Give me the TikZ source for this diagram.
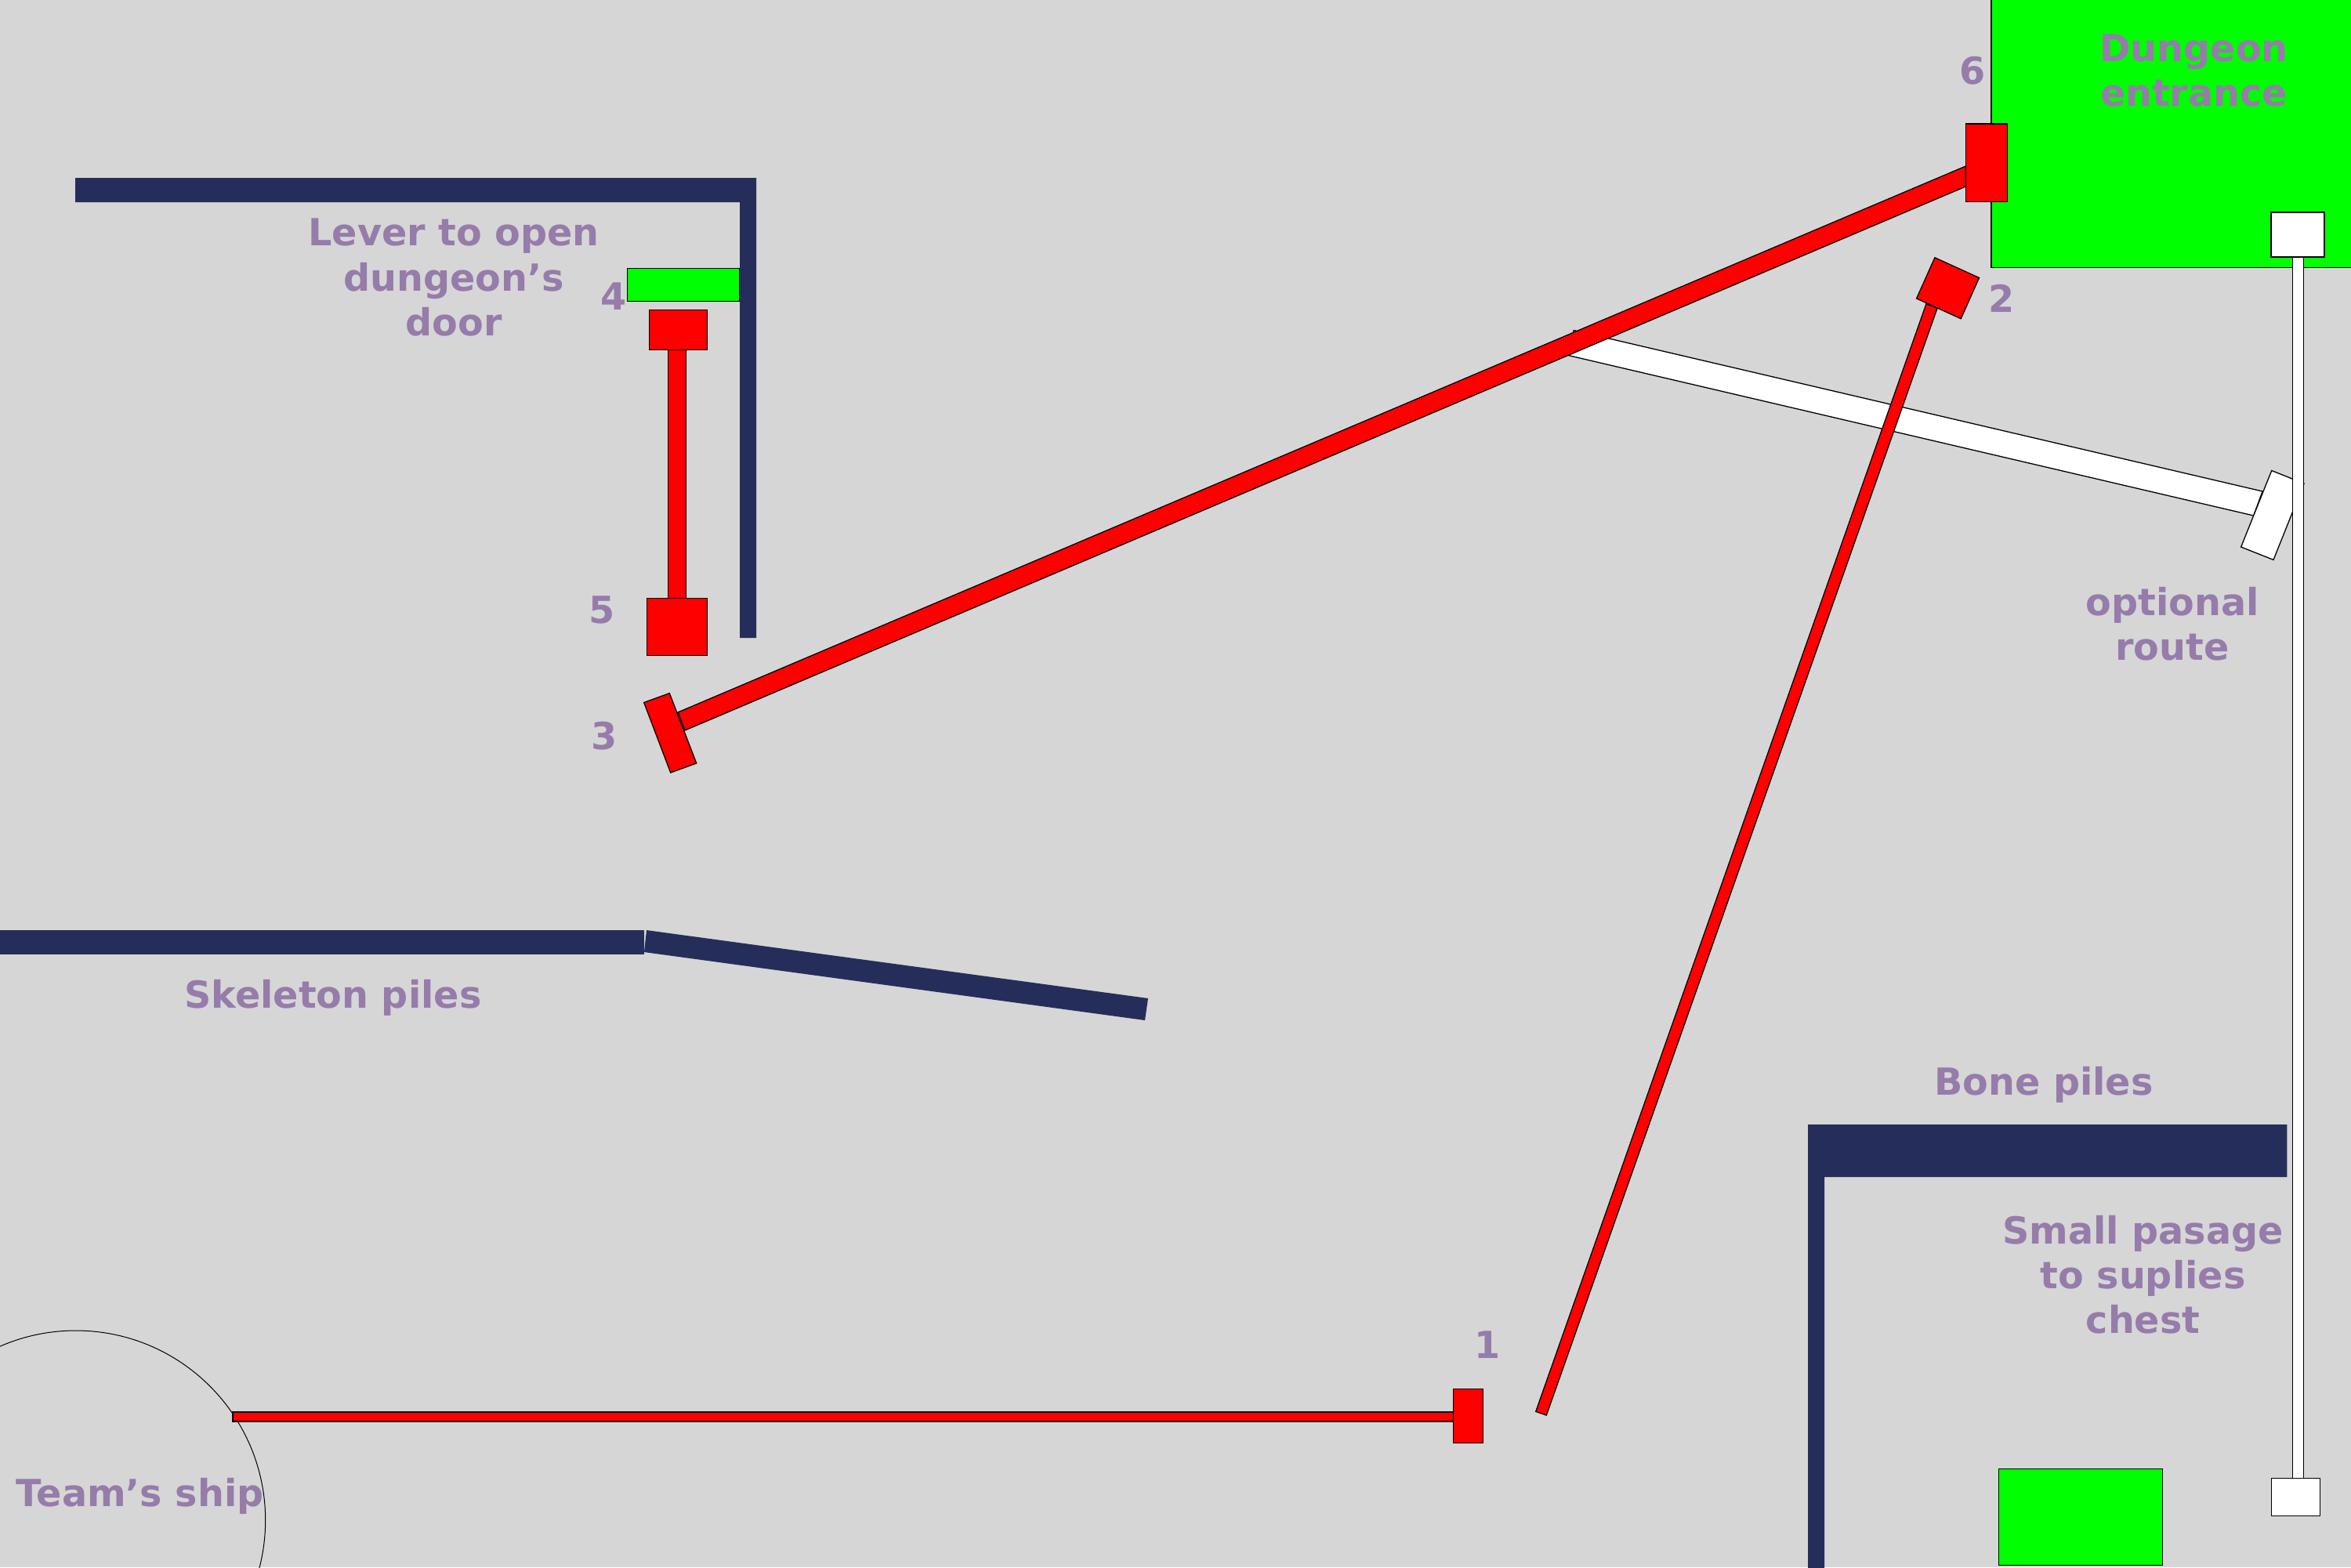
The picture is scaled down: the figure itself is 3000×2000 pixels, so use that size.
\documentclass[tikz,border=0pt]{standalone}
\usepackage{fontspec}
\setmainfont{DejaVu Sans}
\definecolor{bgc}{RGB}{214,214,214}
\definecolor{navy}{RGB}{37,46,90}
\definecolor{labelc}{RGB}{150,124,170}
\tikzset{
  wall/.style={fill=navy,draw=none},
  redpart/.style={fill=red,draw=black,line width=0.13mm},
  whitepart/.style={fill=white,draw=black,line width=0.13mm},
  greenpart/.style={fill=green,draw=black,line width=0.13mm},
  lab/.style={text=labelc,font=\fontsize{13.55}{16.29}\selectfont\bfseries,align=center,inner sep=0pt,anchor=base},
}
\begin{document}
\begin{tikzpicture}[x=0.1mm,y=-0.1mm]
\useasboundingbox (0,0) rectangle (3000,2000);
\clip (0,0) rectangle (3000,2000);
\fill[bgc] (0,0) rectangle (3000,2000);
% ship
\draw[black,line width=0.1mm] (96.7,1940) circle[radius=242];
% walls
\fill[wall] (96,227) -- (965,227) -- (965,814) -- (944,814) -- (944,258) -- (96,258) -- cycle;
\fill[wall] (-5,1187) rectangle (822,1218);
\fill[wall] (825,1187) -- (1465,1274) -- (1461,1302) -- (822,1215) -- cycle;
\fill[wall] (2307,2010) -- (2307,1435) -- (2918.4,1435) -- (2918.4,1502) -- (2328,1502) -- (2328,2010) -- cycle;
% green areas
\draw[greenpart] (2541,-10) rectangle (3010,341.6);
\draw[greenpart] (800.3,342.5) rectangle (943.7,384.3);
\draw[greenpart] (2550.5,1874.6) rectangle (2759.6,1997.4);
% optional route
\draw[whitepart] (2008.3,421.5) -- (2887,627) -- (2875.7,658) -- (1997,452.5) -- cycle;
\draw[whitepart] (2898.7,600.5) -- (2940,617) -- (2901,714.4) -- (2859.6,698) -- cycle;
% white side passage
\draw[whitepart] (2925.6,328) rectangle (2939.6,1886.4);
\draw[whitepart] (2898,271) rectangle (2966,328);
\draw[whitepart] (2898.8,1886.4) rectangle (2960.5,1934.6);
% red route
\draw[redpart] (297,1802) rectangle (1854.3,1814);
\draw[redpart] (1854.3,1772.3) rectangle (1892.7,1841.7);
\draw[redpart] (1959.7,1801.3) -- (2458,387.6) -- (2472,393.3) -- (1973.3,1806) -- cycle;
\draw[redpart] (2468.9,328.7) -- (2525.5,354.5) -- (2502.2,406.7) -- (2445.5,380.9) -- cycle;
\draw[redpart] (865,909) -- (2508.3,212) -- (2508.3,238) -- (874,932) -- cycle;
\draw[redpart] (2508.3,158) rectangle (2561.5,257.4);
\draw[redpart] (821.7,896.5) -- (854.3,884.6) -- (888.7,974) -- (855.7,986) -- cycle;
\draw[redpart] (852.7,446.6) rectangle (875.7,763.7);
\draw[redpart] (828.3,395.7) rectangle (902.7,446.6);
\draw[redpart] (825.3,763.7) rectangle (902.7,836.3);
% labels
\node[lab] (ldungeon) at (2799.5,135.5) {Dungeon\\entrance};
\node[lab] (llever) at (579,428.3) {Lever to open\\dungeon’s\\door};
\node[lab] (loptional) at (2772,842.7) {optional\\route};
\node[lab] (lbone) at (2607.8,1397.7) {Bone piles};
\node[lab] (lsmall) at (2734.5,1701.6) {Small pasage\\to suplies\\chest};
\node[lab] (lskeleton) at (424.9,1286) {Skeleton piles};
\node[lab] (lship) at (178.5,1922.7) {Team’s ship};
\node[lab] (n6) at (2517.3,107.5) {6};
\node[lab] (n2) at (2554,398.5) {2};
\node[lab] (n4) at (783,395) {4};
\node[lab] (n5) at (768,795) {5};
\node[lab] (n3) at (770.8,956) {3};
\node[lab] (n1) at (1898,1733.5) {1};
\end{tikzpicture}
\end{document}
